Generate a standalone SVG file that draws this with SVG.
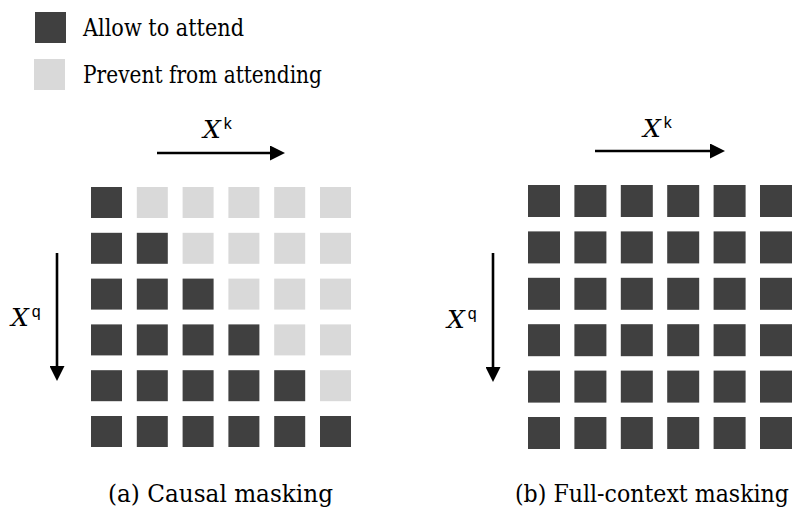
<svg xmlns="http://www.w3.org/2000/svg" width="803" height="512" viewBox="0 0 803 512">
  <style>
    .on { fill: #404040; }
    .off { fill: #d9d9d9; }
    .serif { font-family: "DejaVu Serif Condensed", "DejaVu Serif", serif; font-stretch: condensed; fill: #000; }
    .var { font-family: "DejaVu Serif", serif; font-style: italic; font-size: 25px; }
    .sup { font-family: "Liberation Sans", Arial, sans-serif; font-size: 16px; }
    .axis { stroke: #000; stroke-width: 2.6; fill: none; marker-end: url(#head); }
  </style>
  <defs>
    <marker id="head" markerUnits="userSpaceOnUse" markerWidth="15" markerHeight="15" refX="0" refY="7.5" orient="auto" viewBox="0 0 15 15">
      <path d="M0,0 L15,7.5 L0,15 Z" fill="#000"/>
    </marker>
  </defs>

  <!-- legend -->
  <g id="legend">
    <rect class="on" x="35" y="12" width="31" height="31"/>
    <text class="serif" x="83" y="36" font-size="24" textLength="161" lengthAdjust="spacingAndGlyphs">Allow to attend</text>
    <rect class="off" x="34" y="59" width="31" height="31"/>
    <text class="serif" x="83" y="83" font-size="24" textLength="239" lengthAdjust="spacingAndGlyphs">Prevent from attending</text>
  </g>

  <!-- axis arrows -->
  <g id="connectors">
    <line class="axis" x1="157" y1="153" x2="270" y2="153"/>
    <line class="axis" x1="57" y1="253" x2="57" y2="366"/>
    <line class="axis" x1="595" y1="151" x2="710" y2="151"/>
    <line class="axis" x1="493" y1="253" x2="493" y2="367"/>
  </g>

  <!-- axis labels -->
  <g id="labels">
    <text x="203" y="138"><tspan class="var">X</tspan><tspan class="sup" dx="3" dy="-9">k</tspan></text>
    <text x="11" y="326"><tspan class="var">X</tspan><tspan class="sup" dx="3" dy="-9">q</tspan></text>
    <text x="643" y="137"><tspan class="var">X</tspan><tspan class="sup" dx="3" dy="-9">k</tspan></text>
    <text x="447" y="328"><tspan class="var">X</tspan><tspan class="sup" dx="3" dy="-9">q</tspan></text>
  </g>

  <!-- (a) causal mask: cell (row, col) is open when col <= row -->
  <g id="causal-grid">
    <rect class="on"  x="91"    y="187" width="31" height="31"/>
    <rect class="off" x="136.8" y="187" width="31" height="31"/>
    <rect class="off" x="182.6" y="187" width="31" height="31"/>
    <rect class="off" x="228.4" y="187" width="31" height="31"/>
    <rect class="off" x="274.2" y="187" width="31" height="31"/>
    <rect class="off" x="320"   y="187" width="31" height="31"/>

    <rect class="on"  x="91"    y="232.8" width="31" height="31"/>
    <rect class="on"  x="136.8" y="232.8" width="31" height="31"/>
    <rect class="off" x="182.6" y="232.8" width="31" height="31"/>
    <rect class="off" x="228.4" y="232.8" width="31" height="31"/>
    <rect class="off" x="274.2" y="232.8" width="31" height="31"/>
    <rect class="off" x="320"   y="232.8" width="31" height="31"/>

    <rect class="on"  x="91"    y="278.6" width="31" height="31"/>
    <rect class="on"  x="136.8" y="278.6" width="31" height="31"/>
    <rect class="on"  x="182.6" y="278.6" width="31" height="31"/>
    <rect class="off" x="228.4" y="278.6" width="31" height="31"/>
    <rect class="off" x="274.2" y="278.6" width="31" height="31"/>
    <rect class="off" x="320"   y="278.6" width="31" height="31"/>

    <rect class="on"  x="91"    y="324.4" width="31" height="31"/>
    <rect class="on"  x="136.8" y="324.4" width="31" height="31"/>
    <rect class="on"  x="182.6" y="324.4" width="31" height="31"/>
    <rect class="on"  x="228.4" y="324.4" width="31" height="31"/>
    <rect class="off" x="274.2" y="324.4" width="31" height="31"/>
    <rect class="off" x="320"   y="324.4" width="31" height="31"/>

    <rect class="on"  x="91"    y="370.2" width="31" height="31"/>
    <rect class="on"  x="136.8" y="370.2" width="31" height="31"/>
    <rect class="on"  x="182.6" y="370.2" width="31" height="31"/>
    <rect class="on"  x="228.4" y="370.2" width="31" height="31"/>
    <rect class="on"  x="274.2" y="370.2" width="31" height="31"/>
    <rect class="off" x="320"   y="370.2" width="31" height="31"/>

    <rect class="on"  x="91"    y="416" width="31" height="31"/>
    <rect class="on"  x="136.8" y="416" width="31" height="31"/>
    <rect class="on"  x="182.6" y="416" width="31" height="31"/>
    <rect class="on"  x="228.4" y="416" width="31" height="31"/>
    <rect class="on"  x="274.2" y="416" width="31" height="31"/>
    <rect class="on"  x="320"   y="416" width="31" height="31"/>
  </g>

  <!-- (b) full-context mask: every cell open -->
  <g id="full-grid" class="on">
    <rect x="528"   y="185" width="32" height="32"/>
    <rect x="574.4" y="185" width="32" height="32"/>
    <rect x="620.8" y="185" width="32" height="32"/>
    <rect x="667.2" y="185" width="32" height="32"/>
    <rect x="713.6" y="185" width="32" height="32"/>
    <rect x="760"   y="185" width="32" height="32"/>

    <rect x="528"   y="231.4" width="32" height="32"/>
    <rect x="574.4" y="231.4" width="32" height="32"/>
    <rect x="620.8" y="231.4" width="32" height="32"/>
    <rect x="667.2" y="231.4" width="32" height="32"/>
    <rect x="713.6" y="231.4" width="32" height="32"/>
    <rect x="760"   y="231.4" width="32" height="32"/>

    <rect x="528"   y="277.8" width="32" height="32"/>
    <rect x="574.4" y="277.8" width="32" height="32"/>
    <rect x="620.8" y="277.8" width="32" height="32"/>
    <rect x="667.2" y="277.8" width="32" height="32"/>
    <rect x="713.6" y="277.8" width="32" height="32"/>
    <rect x="760"   y="277.8" width="32" height="32"/>

    <rect x="528"   y="324.2" width="32" height="32"/>
    <rect x="574.4" y="324.2" width="32" height="32"/>
    <rect x="620.8" y="324.2" width="32" height="32"/>
    <rect x="667.2" y="324.2" width="32" height="32"/>
    <rect x="713.6" y="324.2" width="32" height="32"/>
    <rect x="760"   y="324.2" width="32" height="32"/>

    <rect x="528"   y="370.6" width="32" height="32"/>
    <rect x="574.4" y="370.6" width="32" height="32"/>
    <rect x="620.8" y="370.6" width="32" height="32"/>
    <rect x="667.2" y="370.6" width="32" height="32"/>
    <rect x="713.6" y="370.6" width="32" height="32"/>
    <rect x="760"   y="370.6" width="32" height="32"/>

    <rect x="528"   y="417" width="32" height="32"/>
    <rect x="574.4" y="417" width="32" height="32"/>
    <rect x="620.8" y="417" width="32" height="32"/>
    <rect x="667.2" y="417" width="32" height="32"/>
    <rect x="713.6" y="417" width="32" height="32"/>
    <rect x="760"   y="417" width="32" height="32"/>
  </g>

  <!-- captions -->
  <g id="captions">
    <text class="serif" x="108" y="502" font-size="24.5" textLength="225" lengthAdjust="spacingAndGlyphs">(a) Causal masking</text>
    <text class="serif" x="515" y="502" font-size="24.5" textLength="274" lengthAdjust="spacingAndGlyphs">(b) Full-context masking</text>
  </g>
</svg>
